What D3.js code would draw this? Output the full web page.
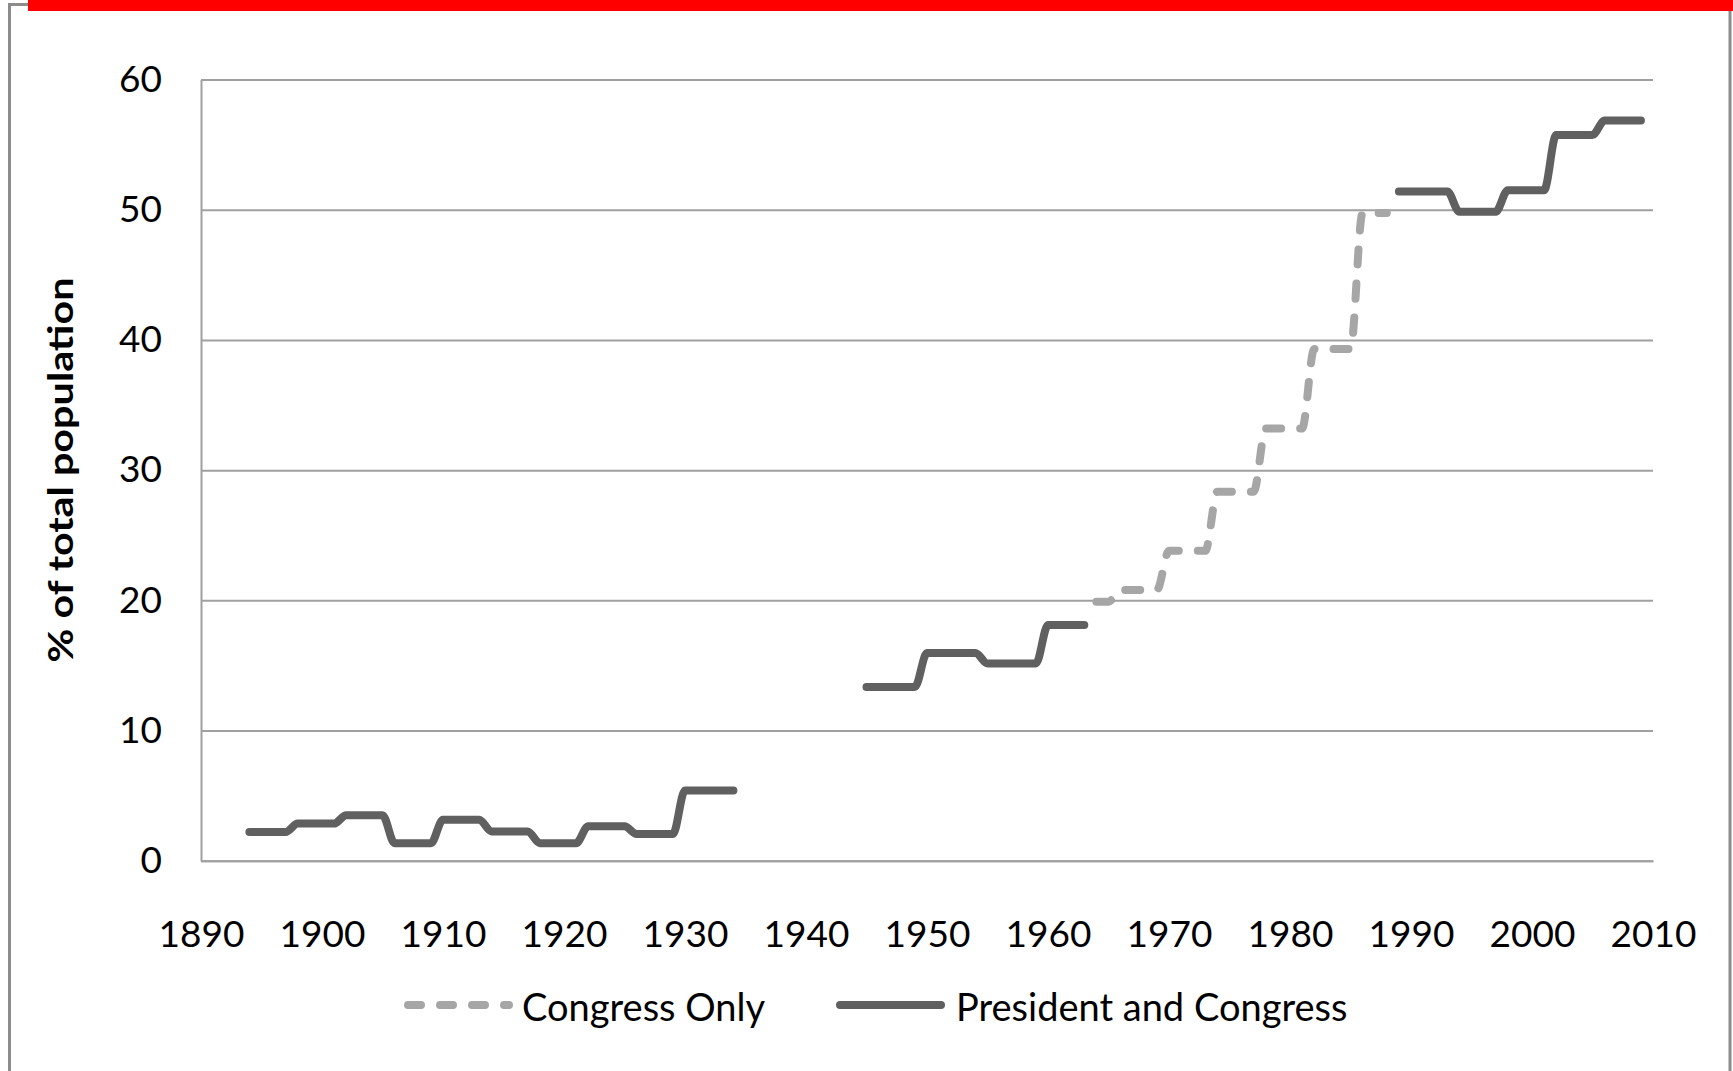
<!DOCTYPE html>
<html>
<head>
<meta charset="utf-8">
<script src="https://cdn.jsdelivr.net/npm/d3@7"></script>
<style>
  body { margin: 0; background: #fff; }
  text { font-family: Lato, "Noto Sans", sans-serif; fill: #000; }
</style>
</head>
<body>
<div id="chart"></div>
<script>
// corner points of each step; null marks a gap
let presYears  = [1894, 1897, 1898, 1901, 1902, 1905, 1906, 1909, 1910, 1913, 1914, 1917, 1918, 1921, 1922, 1925, 1926, 1929, 1930, 1934,
                  1940,
                  1945, 1949, 1950, 1954, 1955, 1959, 1960, 1963,
                  1975,
                  1989, 1993, 1994, 1997, 1998, 2001, 2002, 2005, 2006, 2009];
let presValues = [2.2, 2.2, 2.85, 2.85, 3.5, 3.5, 1.35, 1.35, 3.15, 3.15, 2.25, 2.25, 1.35, 1.35, 2.65, 2.65, 2.05, 2.05, 5.4, 5.4,
                  null,
                  13.35, 13.35, 15.95, 15.95, 15.15, 15.15, 18.1, 18.1,
                  null,
                  51.4, 51.4, 49.85, 49.85, 51.5, 51.5, 55.75, 55.75, 56.85, 56.85];

let congYears  = [1964, 1965, 1966, 1969, 1970, 1973, 1974, 1977, 1978, 1981, 1982, 1985, 1986, 1988];
let congValues = [19.9, 19.9, 20.8, 20.8, 23.8, 23.8, 28.35, 28.35, 33.2, 33.2, 39.3, 39.3, 49.75, 49.75];

let xTicks = [1890, 1900, 1910, 1920, 1930, 1940, 1950, 1960, 1970, 1980, 1990, 2000, 2010];
let yTicks = [0, 10, 20, 30, 40, 50, 60];

let seriesNames = ['Congress Only', 'President and Congress'];

let width = 1733, height = 1071;
let plot = {left: 201, right: 1653, top: 79.6, bottom: 860.7};

let svg = d3.select('#chart').append('svg')
    .attr('width', width).attr('height', height);

svg.append('rect').attr('width', width).attr('height', height).attr('fill', '#fff');

// outer frame and red bar on top
svg.append('rect')
    .attr('x', 9.5).attr('y', 4.5)
    .attr('width', 1720.5).attr('height', 1100)
    .attr('fill', 'none').attr('stroke', '#8c8c8c').attr('stroke-width', 3);
svg.append('rect')
    .attr('x', 28).attr('y', 0).attr('width', width - 28).attr('height', 11)
    .attr('fill', '#ff0000');

let x = d3.scaleLinear().domain([1890, 2010]).range([plot.left, plot.right]);
let y = d3.scaleLinear().domain([0, 60]).range([plot.bottom, plot.top]);

let yAxis = svg.append('g')
    .attr('transform', `translate(${plot.left},0)`)
    .call(d3.axisLeft(y).tickValues(yTicks).tickSize(-(plot.right - plot.left)).tickSizeOuter(0).tickPadding(39));
yAxis.selectAll('line').attr('stroke', '#a0a0a0').attr('stroke-width', 2);
yAxis.select('.domain').attr('stroke', '#a0a0a0').attr('stroke-width', 2);
yAxis.selectAll('text').attr('font-size', 37).attr('fill', '#000');

let xAxis = svg.append('g')
    .attr('transform', `translate(0,${plot.bottom})`)
    .call(d3.axisBottom(x).tickValues(xTicks).tickFormat(d3.format('d')).tickSize(0).tickPadding(60));
xAxis.select('.domain').attr('stroke', '#a0a0a0').attr('stroke-width', 2);
xAxis.selectAll('text').attr('font-size', 37).attr('fill', '#000');

svg.append('text')
    .attr('transform', 'translate(73,470) rotate(-90)')
    .attr('text-anchor', 'middle')
    .attr('font-size', 34)
    .attr('font-weight', 'bold')
    .attr('textLength', 385)
    .attr('lengthAdjust', 'spacingAndGlyphs')
    .text('% of total population');

let line = d3.line()
    .defined(d => d[1] != null)
    .x(d => x(d[0]))
    .y(d => y(d[1]))
    .curve(d3.curveMonotoneX);

let cong = congYears.map((yr, i) => [yr, congValues[i]]);
let pres = presYears.map((yr, i) => [yr, presValues[i]]);

svg.append('path')
    .attr('d', line(cong))
    .attr('fill', 'none')
    .attr('stroke', '#a6a6a6')
    .attr('stroke-width', 8)
    .attr('stroke-linecap', 'round')
    .attr('stroke-dasharray', '15,19');

svg.append('path')
    .attr('d', line(pres))
    .attr('fill', 'none')
    .attr('stroke', '#606060')
    .attr('stroke-width', 8)
    .attr('stroke-linecap', 'round')
    .attr('stroke-linejoin', 'round');

// legend
let legend = [
    {name: seriesNames[0], x1: 408, x2: 509, tx: 522, color: '#a6a6a6', dash: '13,19'},
    {name: seriesNames[1], x1: 840, x2: 941, tx: 956, color: '#606060', dash: null}
];
legend.forEach(l => {
    svg.append('line')
        .attr('x1', l.x1).attr('x2', l.x2).attr('y1', 1005).attr('y2', 1005)
        .attr('stroke', l.color).attr('stroke-width', 8)
        .attr('stroke-linecap', 'round')
        .attr('stroke-dasharray', l.dash);
    svg.append('text')
        .attr('x', l.tx).attr('y', 1021)
        .attr('font-size', 38)
        .text(l.name);
});
</script>
</body>
</html>
